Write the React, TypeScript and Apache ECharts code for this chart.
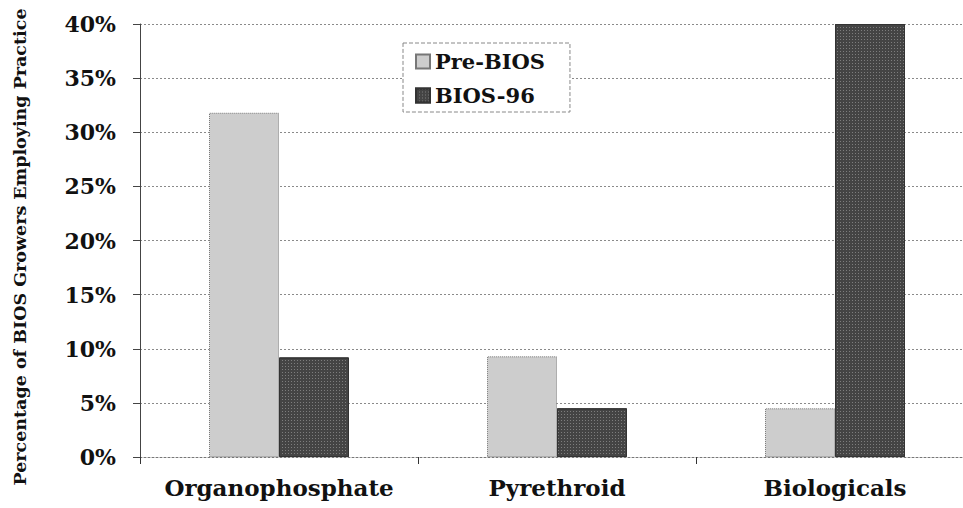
import React, { useEffect, useRef } from "react";
import * as echarts from "echarts";

const categories = ["Organophosphate", "Pyrethroid", "Biologicals"];
const preBios = [31.8, 9.3, 4.5];
const bios96 = [9.2, 4.5, 40];
const seriesNames = ["Pre-BIOS", "BIOS-96"];
const yTitle = "Percentage of BIOS Growers Employing Practice";

const FONT = "'DejaVu Serif', 'Liberation Serif', serif";

export default function App() {
  const ref = useRef<HTMLDivElement>(null);
  useEffect(() => {
    if (!ref.current) return;
    const chart = echarts.init(ref.current, null, { renderer: "svg" });
    chart.setOption({
      animation: false,
      backgroundColor: "#ffffff",
      textStyle: { fontFamily: FONT },
      legend: {
        orient: "vertical",
        left: 403,
        top: 43,
        padding: [8, 25, 6, 12],
        itemGap: 13,
        itemWidth: 14,
        itemHeight: 14,
        icon: "rect",
        borderColor: "#888",
        borderWidth: 1,
        borderType: "dashed",
        backgroundColor: "#fff",
        textStyle: { fontFamily: FONT, fontWeight: "bold", fontSize: 21, color: "#111" },
        data: seriesNames,
      },
      graphic: [
        {
          type: "text",
          x: 20,
          y: 247,
          rotation: Math.PI / 2,
          style: {
            text: yTitle,
            fontFamily: FONT,
            fontWeight: "bold",
            fontSize: 17.5,
            fill: "#111",
            align: "center",
            verticalAlign: "middle",
          },
        },
      ],
      grid: { left: 140, top: 24, right: -11, bottom: 51, outerBoundsMode: "none", containLabel: false },
      xAxis: {
        type: "category",
        data: categories,
        axisLine: { lineStyle: { color: "#777", type: [2, 2], width: 1 } },
        axisTick: { show: true, length: 7, lineStyle: { color: "#333" } },
        axisLabel: { interval: 0, fontFamily: FONT, fontWeight: "bold", fontSize: 23, color: "#111", margin: 19 },
      },
      yAxis: {
        type: "value",
        min: 0,
        max: 40,
        interval: 5,
        axisLine: { show: true, lineStyle: { color: "#444", width: 1 } },
        axisTick: { show: true, length: 7, lineStyle: { color: "#444" } },
        axisLabel: { formatter: "{value}%", fontFamily: FONT, fontWeight: "bold", fontSize: 22, color: "#111", margin: 24 },
        splitLine: { show: true, lineStyle: { color: "#8a8a8a", type: [2, 2], width: 1 } },
      },
      series: [
        {
          name: seriesNames[0],
          type: "bar",
          data: preBios,
          barWidth: 70,
          barGap: "0%",
          itemStyle: { color: "#cdcdcd", borderColor: "#777", borderWidth: 1, borderType: "dotted" },
        },
        {
          name: seriesNames[1],
          type: "bar",
          data: bios96,
          barWidth: 70,
          barGap: "0%",
          itemStyle: {
            color: "#444444",
            borderColor: "#333",
            borderWidth: 1,
            decal: {
              symbol: "rect",
              symbolSize: 1,
              dashArrayX: [1, 2],
              dashArrayY: [1, 2],
              color: "rgba(170,170,170,0.55)",
            },
          },
        },
      ],
    });
    return () => chart.dispose();
  }, []);
  return <div ref={ref} style={{ position: "fixed", left: 0, top: 0, width: 963, height: 508 }} />;
}
